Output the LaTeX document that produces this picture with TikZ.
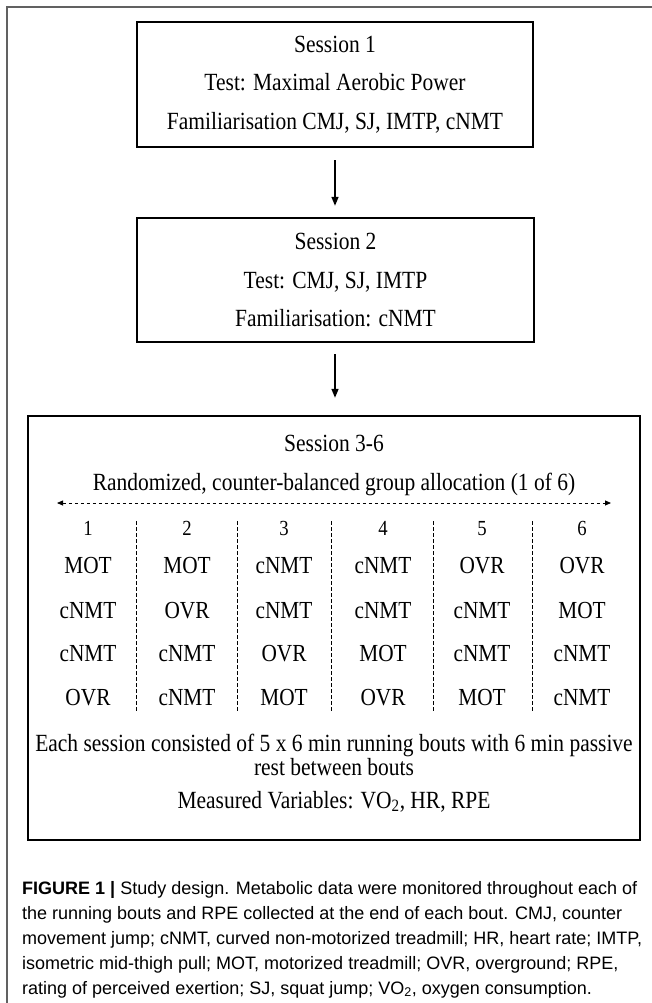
\documentclass[tikz,border=0pt]{standalone}
\usepackage{fontspec}
\setmainfont{Liberation Serif}[FakeStretch=0.87]
\newfontfamily\capfont{Liberation Sans}
\usetikzlibrary{arrows.meta}
\tikzset{
  sbox/.style={draw=black, line width=2.4pt, rectangle, inner sep=0pt, align=center,
    font=\fontsize{24.7}{38.5}\selectfont},
  flowarrow/.style={line width=1.6pt, -{Triangle[length=9pt,width=7pt]}},
  sepline/.style={line width=0.8pt, dash pattern=on 3.5pt off 2.5pt},
  celltxt/.style={font=\fontsize{24.5}{24}\selectfont, inner sep=0pt, anchor=base},
  numtxt/.style={font=\fontsize{21.5}{24}\selectfont, inner sep=0pt, anchor=base},
  boxtxt/.style={font=\fontsize{24.7}{24}\selectfont, inner sep=0pt, anchor=base},
  captxt/.style={font=\capfont\fontsize{18}{25}\selectfont, inner sep=0pt, anchor=base west},
}
\begin{document}
\begin{tikzpicture}[x=1pt,y=-1pt]
\useasboundingbox (0,0) rectangle (652,1003);
\draw[color=black!62, line width=1.5pt] (7,1003) -- (7,7) -- (652,7);
% boxes
\node[sbox, minimum width=396pt, minimum height=125pt] (s1) at (335,84.5)
  {Session 1\\Test: Maximal Aerobic Power\\Familiarisation CMJ, SJ, IMTP, cNMT};
\node[sbox, minimum width=397pt, minimum height=124pt] (s2) at (335.5,280)
  {Session 2\\Test: CMJ, SJ, IMTP\\Familiarisation: cNMT};
\node[sbox, minimum width=612pt, minimum height=424pt] (s3) at (334,628) {};
\draw[flowarrow, shorten <=12pt, shorten >=11pt] (s1.south -| 335,0) -- (s2.north -| 335,0);
\draw[flowarrow, shorten <=11pt, shorten >=17pt] (s2.south -| 335,0) -- (s3.north -| 335,0);
% session 3-6 contents
\node[boxtxt] (t36) at (334,451) {Session 3-6};
\node[boxtxt] (rand) at (334,490) {Randomized, counter-balanced group allocation (1 of 6)};
\coordinate (dl) at (57,503);
\coordinate (dr) at (611,503);
\draw[sepline, {Triangle[length=6pt,width=5pt]}-{Triangle[length=6pt,width=5pt]}] (dl) -- (dr);
\foreach \x [count=\i] in {136,237,331,433,532} {
  \coordinate (st\i) at (\x,521);
  \coordinate (sb\i) at (\x,711);
  \draw[sepline] (st\i) -- (sb\i);
}
\foreach \x/\a/\b/\c/\d/\e [count=\i] in {
  88/1/MOT/cNMT/cNMT/OVR,
  187/2/MOT/OVR/cNMT/cNMT,
  284/3/cNMT/cNMT/OVR/MOT,
  383/4/cNMT/cNMT/MOT/OVR,
  482/5/OVR/cNMT/cNMT/MOT,
  582/6/OVR/MOT/cNMT/cNMT} {
  \node[numtxt] (n\i) at (\x,535.5) {\a};
  \node[celltxt] (r\i a) at (\x,573) {\b};
  \node[celltxt] (r\i b) at (\x,618) {\c};
  \node[celltxt] (r\i c) at (\x,661) {\d};
  \node[celltxt] (r\i d) at (\x,705) {\e};
}
\node[boxtxt] (each) at (334,751) {Each session consisted of 5 x 6 min running bouts with 6 min passive};
\node[boxtxt] (rest) at (334,775) {rest between bouts};
\node[boxtxt] (meas) at (334,808) {Measured Variables: VO\textsubscript{2}, HR, RPE};
% caption
\node[captxt] (c1) at (22,894) {\textbf{FIGURE 1 |} Study design. Metabolic data were monitored throughout each of};
\node[captxt] (c2) at (22,919) {the running bouts and RPE collected at the end of each bout. CMJ, counter};
\node[captxt] (c3) at (22,944) {movement jump; cNMT, curved non-motorized treadmill; HR, heart rate; IMTP,};
\node[captxt] (c4) at (22,969) {isometric mid-thigh pull; MOT, motorized treadmill; OVR, overground; RPE,};
\node[captxt] (c5) at (22,994) {rating of perceived exertion; SJ, squat jump; VO\textsubscript{2}, oxygen consumption.};
\end{tikzpicture}
\end{document}
